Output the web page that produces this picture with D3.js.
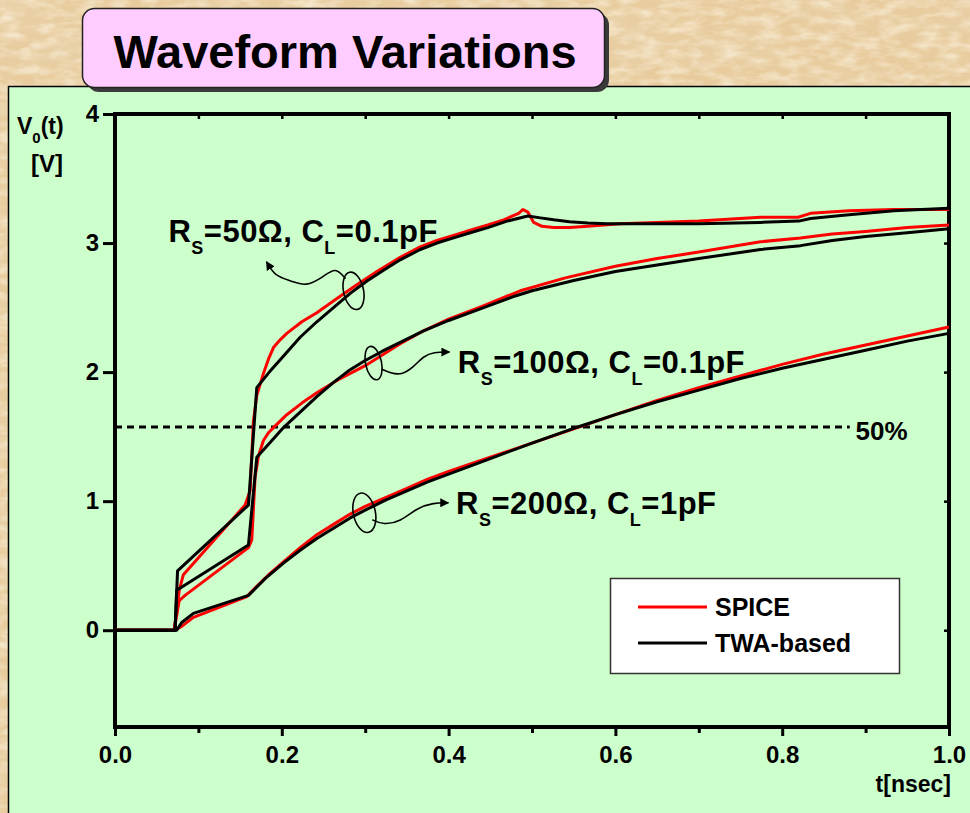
<!DOCTYPE html>
<html>
<head>
<meta charset="utf-8">
<script src="https://cdn.jsdelivr.net/npm/d3@7"></script>
<style>
  html, body { margin: 0; padding: 0; background: #e8cc9e; }
  svg { display: block; }
  text { font-family: Arial, "Liberation Sans", sans-serif; font-weight: bold; fill: #000; }
</style>
</head>
<body>
<svg id="chart" width="970" height="813"></svg>
<script>
// ---- data: output voltage V0(t) [V] versus t [nsec] ----
const spice50 = [[0,0],[0.071,0],[0.077,0.31],[0.082,0.43],[0.156,0.97],[0.162,1.08],[0.166,1.62],[0.170,1.82],[0.178,1.99],[0.184,2.10],[0.190,2.19],[0.198,2.25],[0.206,2.30],[0.224,2.39],[0.242,2.46],[0.264,2.56],[0.286,2.66],[0.314,2.78],[0.342,2.89],[0.366,2.97],[0.386,3.02],[0.406,3.06],[0.426,3.10],[0.447,3.14],[0.466,3.18],[0.484,3.23],[0.489,3.26],[0.495,3.24],[0.502,3.16],[0.512,3.13],[0.526,3.12],[0.545,3.12],[0.567,3.13],[0.606,3.15],[0.65,3.16],[0.70,3.17],[0.774,3.20],[0.819,3.20],[0.834,3.23],[0.88,3.25],[0.934,3.26],[1.0,3.26]];
const twa50 = [[0,0],[0.072,0],[0.075,0.46],[0.160,0.97],[0.170,1.88],[0.185,2.00],[0.200,2.11],[0.222,2.27],[0.242,2.39],[0.262,2.50],[0.282,2.61],[0.303,2.71],[0.322,2.79],[0.342,2.87],[0.366,2.95],[0.386,3.00],[0.406,3.04],[0.426,3.08],[0.447,3.12],[0.470,3.17],[0.495,3.21],[0.510,3.195],[0.526,3.18],[0.545,3.165],[0.567,3.155],[0.590,3.15],[0.606,3.15],[0.65,3.15],[0.70,3.15],[0.774,3.16],[0.820,3.17],[0.834,3.19],[0.88,3.22],[0.934,3.25],[1.0,3.27]];
const spice100 = [[0,0],[0.071,0],[0.077,0.23],[0.084,0.27],[0.160,0.64],[0.164,0.70],[0.168,1.19],[0.172,1.35],[0.178,1.47],[0.184,1.53],[0.190,1.57],[0.198,1.62],[0.206,1.67],[0.224,1.76],[0.242,1.84],[0.270,1.95],[0.300,2.05],[0.320,2.13],[0.342,2.22],[0.370,2.32],[0.400,2.41],[0.440,2.51],[0.486,2.63],[0.540,2.73],[0.600,2.82],[0.650,2.88],[0.700,2.93],[0.774,3.01],[0.822,3.04],[0.860,3.07],[0.900,3.09],[0.950,3.12],[1.0,3.14]];
const twa100 = [[0,0],[0.072,0],[0.074,0.31],[0.160,0.66],[0.170,1.34],[0.186,1.455],[0.202,1.57],[0.222,1.69],[0.242,1.81],[0.262,1.92],[0.280,2.01],[0.300,2.09],[0.320,2.16],[0.342,2.23],[0.370,2.32],[0.400,2.40],[0.430,2.47],[0.455,2.53],[0.480,2.59],[0.500,2.63],[0.550,2.71],[0.600,2.78],[0.650,2.83],[0.700,2.88],[0.774,2.95],[0.822,2.98],[0.860,3.02],[0.900,3.05],[0.950,3.08],[1.0,3.11]];
const spice200 = [[0,0],[0.071,0],[0.080,0.03],[0.094,0.10],[0.158,0.26],[0.170,0.34],[0.186,0.44],[0.202,0.53],[0.222,0.64],[0.242,0.74],[0.262,0.82],[0.282,0.90],[0.300,0.96],[0.325,1.03],[0.350,1.10],[0.375,1.17],[0.400,1.23],[0.450,1.34],[0.500,1.45],[0.550,1.56],[0.600,1.67],[0.650,1.78],[0.700,1.88],[0.750,1.97],[0.800,2.06],[0.850,2.14],[0.900,2.21],[0.950,2.28],[1.0,2.35]];
const twa200 = [[0,0],[0.074,0],[0.080,0.06],[0.094,0.13],[0.160,0.27],[0.180,0.40],[0.202,0.52],[0.222,0.62],[0.242,0.71],[0.262,0.79],[0.282,0.87],[0.300,0.93],[0.325,1.01],[0.350,1.08],[0.375,1.15],[0.400,1.21],[0.450,1.33],[0.500,1.45],[0.555,1.575],[0.600,1.67],[0.650,1.77],[0.700,1.86],[0.750,1.95],[0.800,2.03],[0.850,2.10],[0.900,2.17],[0.950,2.24],[1.0,2.30]];

const halfLevel = 1.575;               // 50% threshold [V]
const xTicks = [0, 0.2, 0.4, 0.6, 0.8, 1.0];
const xMinorTicks = [0.1, 0.3, 0.5, 0.7, 0.9];
const yTicks = [0, 1, 2, 3, 4];
const seriesNames = ["SPICE", "TWA-based"];
const caseLabels = [
  [["R"], ["S", 1], ["=50Ω, C"], ["L", 1], ["=0.1pF"]],
  [["R"], ["S", 1], ["=100Ω, C"], ["L", 1], ["=0.1pF"]],
  [["R"], ["S", 1], ["=200Ω, C"], ["L", 1], ["=1pF"]]
];
const titleText = "Waveform Variations";

// ---- layout ----
const svg = d3.select("#chart");
const W = 970, H = 813;
const plot = { left: 115, right: 949, top: 114, bottom: 727 };
const x = d3.scaleLinear().domain([0, 1]).range([plot.left, plot.right]);
const y = d3.scaleLinear().domain([-0.75, 4]).range([plot.bottom, plot.top]);

// ---- parchment backdrop ----
const defs = svg.append("defs");
const f = defs.append("filter").attr("id", "paper").attr("x", 0).attr("y", 0).attr("width", "100%").attr("height", "100%");
f.append("feTurbulence").attr("type", "fractalNoise").attr("baseFrequency", "0.012 0.03").attr("numOctaves", 5).attr("seed", 11).attr("result", "n");
f.append("feColorMatrix").attr("in", "n").attr("type", "matrix")
  .attr("values", "0 0 0 0 0.80  0 0 0 0 0.64  0 0 0 0 0.40  1.4 0 0 0 -0.56");
const f2 = defs.append("filter").attr("id", "paper2").attr("x", 0).attr("y", 0).attr("width", "100%").attr("height", "100%");
f2.append("feTurbulence").attr("type", "fractalNoise").attr("baseFrequency", "0.05 0.12").attr("numOctaves", 3).attr("seed", 4).attr("result", "n");
f2.append("feColorMatrix").attr("in", "n").attr("type", "matrix")
  .attr("values", "0 0 0 0 0.96  0 0 0 0 0.88  0 0 0 0 0.72  0 1.5 0 0 -0.58");

svg.append("rect").attr("width", W).attr("height", H).attr("fill", "#e8cc9e");
svg.append("rect").attr("width", W).attr("height", H).attr("filter", "url(#paper)");
svg.append("rect").attr("width", W).attr("height", H).attr("filter", "url(#paper2)");

// ---- green panel ----
svg.append("rect").attr("x", 8.5).attr("y", 86.5).attr("width", W + 10).attr("height", H + 10)
  .attr("fill", "#ccffcc").attr("stroke", "#000").attr("stroke-width", 1.5);

// ---- title box ----
svg.append("rect").attr("x", 87).attr("y", 13).attr("width", 522).attr("height", 79).attr("rx", 12)
  .attr("fill", "#3a3a3a");
svg.append("rect").attr("x", 82.5).attr("y", 8.5).attr("width", 522).attr("height", 79).attr("rx", 12)
  .attr("fill", "#ffccff").attr("stroke", "#222").attr("stroke-width", 1.5);
svg.append("text").attr("x", 345).attr("y", 68).attr("text-anchor", "middle")
  .style("font-size", "47px").text(titleText);

// ---- axes frame ----
const g = svg.append("g");
const axisW = 4;
const tickFont = sel => sel.style("font-size", "24px").style("font-family", "Arial, 'Liberation Sans', sans-serif")
  .style("font-weight", "bold").attr("fill", "#000");

const xAxis = d3.axisBottom(x).tickValues(xTicks).tickFormat(d3.format(".1f")).tickSize(9).tickPadding(10);
const gx = g.append("g").attr("transform", `translate(0,${plot.bottom})`).call(xAxis);
gx.select(".domain").remove();
gx.selectAll(".tick line").attr("stroke", "#000").attr("stroke-width", 3);
gx.selectAll(".tick text").call(tickFont);

const gxm = g.append("g").attr("transform", `translate(0,${plot.bottom})`)
  .call(d3.axisBottom(x).tickValues(xMinorTicks).tickSize(6).tickFormat(""));
gxm.select(".domain").remove();
gxm.selectAll(".tick line").attr("stroke", "#000").attr("stroke-width", 3);

// top axis: inward ticks
const gxt = g.append("g").attr("transform", `translate(0,${plot.top})`)
  .call(d3.axisBottom(x).tickValues(xTicks.concat(xMinorTicks)).tickSize(5).tickFormat(""));
gxt.select(".domain").remove();
gxt.selectAll(".tick line").attr("stroke", "#000").attr("stroke-width", 2.5);

const yAxis = d3.axisLeft(y).tickValues(yTicks).tickFormat(d3.format("d")).tickSize(12).tickPadding(4);
const gy = g.append("g").attr("transform", `translate(${plot.left},0)`).call(yAxis);
gy.select(".domain").remove();
gy.selectAll(".tick line").attr("stroke", "#000").attr("stroke-width", 3);
gy.selectAll(".tick text").call(tickFont);

// right axis: inward ticks
const gyr = g.append("g").attr("transform", `translate(${plot.right},0)`)
  .call(d3.axisRight(y).tickValues(yTicks).tickSize(-5).tickFormat(""));
gyr.select(".domain").remove();
gyr.selectAll(".tick line").attr("stroke", "#000").attr("stroke-width", 2.5);

g.append("rect").attr("x", plot.left).attr("y", plot.top)
  .attr("width", plot.right - plot.left).attr("height", plot.bottom - plot.top)
  .attr("fill", "none").attr("stroke", "#000").attr("stroke-width", axisW);

// axis titles
const yl = g.append("text").attr("x", 17).attr("y", 134).style("font-size", "23px");
yl.append("tspan").text("V");
yl.append("tspan").attr("dy", 9).style("font-size", "15px").text("0");
yl.append("tspan").attr("dy", -9).text("(t)");
g.append("text").attr("x", 47).attr("y", 172).attr("text-anchor", "middle").style("font-size", "24px").text("[V]");
g.append("text").attr("x", plot.right + 2).attr("y", 792).attr("text-anchor", "end").style("font-size", "23px").text("t[nsec]");

// ---- 50% threshold ----
g.append("line").attr("x1", x(0)).attr("x2", x(0.881))
  .attr("y1", y(halfLevel)).attr("y2", y(halfLevel))
  .attr("stroke", "#000").attr("stroke-width", 3).attr("stroke-dasharray", "7,5");
g.append("text").attr("x", x(0.888)).attr("y", y(halfLevel) + 13).style("font-size", "26px").text("50%");

// ---- waveforms ----
const line = d3.line().x(d => x(d[0])).y(d => y(d[1])).curve(d3.curveLinear);
const curves = [
  { data: spice50, color: "#ff0000" },
  { data: spice100, color: "#ff0000" },
  { data: spice200, color: "#ff0000" },
  { data: twa50, color: "#000000" },
  { data: twa100, color: "#000000" },
  { data: twa200, color: "#000000" }
];
g.append("g").selectAll("path").data(curves).join("path")
  .attr("d", d => line(d.data)).attr("fill", "none")
  .attr("stroke", d => d.color).attr("stroke-width", 3)
  .attr("stroke-linejoin", "round");

// ---- case labels ----
function caseLabel(px, py, parts) {
  const t = g.append("text").attr("x", px).attr("y", py).style("font-size", "31px").style("letter-spacing", "0.5px");
  let down = 0;
  parts.forEach(p => {
    const sub = p[1] === 1;
    const dy = sub ? 12 - down : -down;
    down = sub ? 12 : 0;
    t.append("tspan").attr("dy", dy).style("font-size", sub ? "18px" : "31px").text(p[0]);
  });
}
caseLabel(x(0.064), y(3.01), caseLabels[0]);
caseLabel(x(0.411), y(1.99), caseLabels[1]);
caseLabel(x(0.409), y(0.90), caseLabels[2]);

// ---- curly pointers from a waveform to its label ----
defs.append("marker").attr("id", "ah").attr("viewBox", "0 0 10 10").attr("refX", 9).attr("refY", 5)
  .attr("markerWidth", 9).attr("markerHeight", 9).attr("orient", "auto-start-reverse")
  .attr("markerUnits", "userSpaceOnUse")
  .append("path").attr("d", "M0,0 L10,5 L0,10 Z").attr("fill", "#000");

const pointers = [
  { t: 0.286, v: 2.63, rx: 10, ry: 19, tail: [[-8,-12],[-18,-24],[-30,-14],[-48,-4],[-62,-10],[-78,-14],[-87,-29]] },
  { t: 0.310, v: 2.07, rx: 8, ry: 17, tail: [[8,6],[17,10],[28,12],[40,4],[50,-7],[60,-11],[76,-11]] },
  { t: 0.299, v: 0.91, rx: 11, ry: 20, tail: [[8,7],[19,12],[36,9],[53,-5],[69,-10],[84,-10]] }
];
pointers.forEach(p => {
  const cx = x(p.t), cy = y(p.v);
  // loop around the waveform
  g.append("ellipse").attr("cx", cx).attr("cy", cy).attr("rx", p.rx).attr("ry", p.ry)
    .attr("fill", "none").attr("stroke", "#000").attr("stroke-width", 1.6)
    .attr("transform", `rotate(-12,${cx},${cy})`);
  const pts = p.tail.map(d => [cx + d[0], cy + d[1]]);
  g.append("path").attr("d", d3.line().curve(d3.curveBasis)(pts))
    .attr("fill", "none").attr("stroke", "#000").attr("stroke-width", 1.6)
    .attr("marker-end", "url(#ah)");
});

// ---- legend ----
const lg = g.append("g");
lg.append("rect").attr("x", 610.5).attr("y", 578.5).attr("width", 289).attr("height", 95)
  .attr("fill", "#fff").attr("stroke", "#333").attr("stroke-width", 1.5);
[["#ff0000", 607], ["#000000", 643]].forEach((c, i) => {
  lg.append("line").attr("x1", 638).attr("x2", 707).attr("y1", c[1]).attr("y2", c[1])
    .attr("stroke", c[0]).attr("stroke-width", 3);
  lg.append("text").attr("x", 715).attr("y", c[1] + 9).style("font-size", "25px").text(seriesNames[i]);
});
</script>
</body>
</html>
